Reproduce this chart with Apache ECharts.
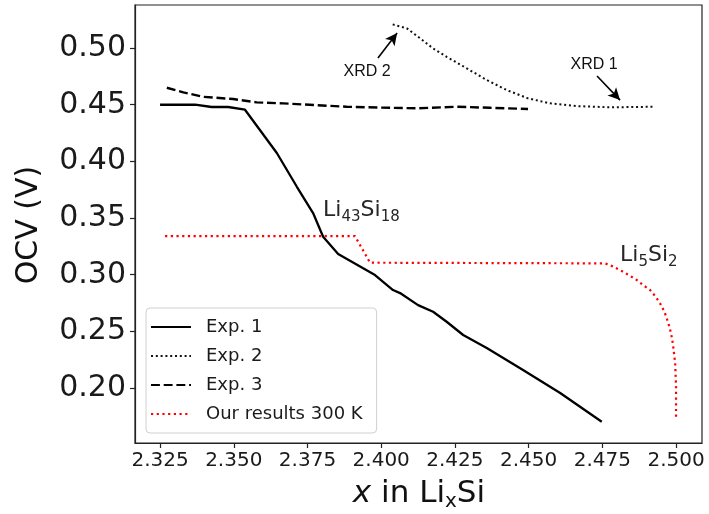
<!DOCTYPE html>
<html><head><meta charset="utf-8">
<script src="https://cdn.jsdelivr.net/npm/echarts@6/dist/echarts.min.js"></script>
<style>html,body{margin:0;padding:0;background:#fff}#c{width:709px;height:514px}</style>
</head><body><div id="c"></div>
<script>
// ---- data ----
const exp1X = [2.325, 2.3369, 2.3425, 2.3481, 2.3538, 2.3646, 2.3714, 2.3769, 2.3803, 2.3854, 2.3979, 2.4040, 2.4064, 2.4125, 2.4176, 2.4222, 2.4278, 2.4358, 2.4481, 2.4607, 2.4748];
const exp1Y = [0.450, 0.450, 0.448, 0.448, 0.4456, 0.4074, 0.3776, 0.3544, 0.3335, 0.3182, 0.2997, 0.2865, 0.2838, 0.2732, 0.2673, 0.2585, 0.2468, 0.2353, 0.2159, 0.1956, 0.1703];

const exp2X = [2.4039, 2.4087, 2.4132, 2.4176, 2.4222, 2.4290, 2.4358, 2.4426, 2.4498, 2.4573, 2.4663, 2.4776, 2.4922];
const exp2Y = [0.5209, 0.5174, 0.5086, 0.4997, 0.4923, 0.4821, 0.4718, 0.4629, 0.4556, 0.4512, 0.4488, 0.4477, 0.4482];

const exp3X = [2.3273, 2.3329, 2.3396, 2.3498, 2.3578, 2.3667, 2.3883, 2.4030, 2.4121, 2.4256, 2.4369, 2.4498];
const exp3Y = [0.465, 0.4609, 0.4570, 0.4550, 0.4521, 0.4512, 0.4482, 0.4473, 0.4468, 0.4482, 0.4473, 0.4462];

const oursX = [2.3267, 2.3911, 2.3962, 2.4759, 2.4783, 2.4810, 2.4837, 2.4867, 2.4888, 2.4912, 2.4929, 2.4946, 2.4961, 2.4974, 2.4983, 2.4989, 2.4993, 2.4997, 2.5000, 2.5000];
const oursY = [0.3341, 0.3341, 0.3106, 0.3100, 0.3076, 0.3041, 0.3001, 0.2953, 0.2909, 0.2865, 0.2812, 0.2747, 0.2671, 0.2571, 0.2485, 0.2394, 0.2309, 0.2218, 0.2011, 0.1733];

const seriesNames = ['Exp. 1', 'Exp. 2', 'Exp. 3', 'Our results 300 K'];
const xTicks = [2.325, 2.350, 2.375, 2.400, 2.425, 2.450, 2.475, 2.500];
const yTicks = [0.20, 0.25, 0.30, 0.35, 0.40, 0.45, 0.50];

// annotations (data coordinates)
const xrd2Arrow = [[2.3989, 0.4912], [2.4054, 0.5132]];
const xrd1Arrow = [[2.4732, 0.4753], [2.4810, 0.4541]];
const xrd2Text = [2.3952, 0.4788];
const xrd1Text = [2.4722, 0.4850];
const li43Pos = [2.3803, 0.3571];
const li5Pos = [2.4810, 0.3173];

const zip = (xs, ys) => xs.map((x, i) => [x, ys[i]]);

const chart = echarts.init(document.getElementById('c'), null, {renderer: 'canvas'});
const FONT = 'DejaVu Sans';

const option = {
  animation: false,
  backgroundColor: '#fff',
  grid: {left: 135, right: 7, top: 5, bottom: 71, show: true, borderColor: '#222', borderWidth: 1.2, backgroundColor: 'transparent'},
  xAxis: {
    type: 'value', min: 2.3165, max: 2.5088,
    splitLine: {show: false},
    axisLine: {show: true, onZero: false, lineStyle: {color: '#222', width: 1.2}},
    axisTick: {show: true, length: 5, customValues: xTicks, lineStyle: {color: '#222', width: 1.2}},
    axisLabel: {customValues: xTicks, formatter: v => v.toFixed(3), fontFamily: FONT, fontSize: 20, color: '#1a1a1a', margin: 8}
  },
  yAxis: {
    type: 'value', min: 0.1515, max: 0.538,
    splitLine: {show: false},
    axisLine: {show: true, onZero: false, lineStyle: {color: '#222', width: 1.2}},
    axisTick: {show: true, length: 5, customValues: yTicks, lineStyle: {color: '#222', width: 1.2}},
    axisLabel: {customValues: yTicks, formatter: v => v.toFixed(2), fontFamily: FONT, fontSize: 30, color: '#1a1a1a', margin: 9}
  },
  legend: {
    orient: 'vertical', left: 146, top: 308,
    padding: [9, 14, 9, 4], itemGap: 9, itemWidth: 40, itemHeight: 14,
    borderColor: '#d0d0d0', borderWidth: 1, borderRadius: 4, backgroundColor: '#fff',
    itemStyle: {opacity: 0},
    textStyle: {fontFamily: FONT, fontSize: 18, color: '#1a1a1a', lineHeight: 20, padding: [0, 0, 0, 10]},
    data: seriesNames
  },
  series: [
    {name: seriesNames[0], type: 'line', data: zip(exp1X, exp1Y), symbol: 'none', color: '#000',
     lineStyle: {color: '#000', width: 2.3, type: 'solid'}},
    {name: seriesNames[1], type: 'line', data: zip(exp2X, exp2Y), symbol: 'none', color: '#111',
     lineStyle: {color: '#111', width: 2, type: [2, 2.8]},
     markLine: {silent: true, animation: false, symbol: ['none', 'arrow'], symbolSize: [9, 12], label: {show: false},
       lineStyle: {color: '#000', width: 1.6, type: 'solid'},
       data: [
         [{coord: xrd2Arrow[0]}, {coord: xrd2Arrow[1]}],
         [{coord: xrd1Arrow[0]}, {coord: xrd1Arrow[1]}]
       ]}},
    {name: seriesNames[2], type: 'line', data: zip(exp3X, exp3Y), symbol: 'none', color: '#000',
     lineStyle: {color: '#000', width: 2.4, type: [8.9, 3.8]}},
    {name: seriesNames[3], type: 'line', data: zip(oursX, oursY), symbol: 'none', color: '#ff0000',
     lineStyle: {color: '#ff0000', width: 2.2, type: [2.2, 3.5]}}
  ]
};
chart.setOption(option);

const px = p => chart.convertToPixel({gridIndex: 0}, p);
const p2 = px(xrd2Text), p1 = px(xrd1Text), pL43 = px(li43Pos), pL5 = px(li5Pos);
const subRich = {
  a: {fontFamily: FONT, fontSize: 22, fill: '#262626', lineHeight: 30, verticalAlign: 'middle'},
  b: {fontFamily: FONT, fontSize: 15, fill: '#262626', lineHeight: 30, padding: [14, 0, 0, 0]}
};
chart.setOption({
  graphic: [
    {type: 'text', x: p2[0], y: p2[1], style: {text: 'XRD 2', font: '16px "Liberation Sans"', fill: '#111', align: 'center', verticalAlign: 'middle'}},
    {type: 'text', x: p1[0], y: p1[1], style: {text: 'XRD 1', font: '16px "Liberation Sans"', fill: '#111', align: 'center', verticalAlign: 'middle'}},
    {type: 'text', x: pL43[0], y: pL43[1], style: {text: '{a|Li}{b|43}{a|Si}{b|18}', rich: subRich, align: 'left', verticalAlign: 'middle'}},
    {type: 'text', x: pL5[0], y: pL5[1], style: {text: '{a|Li}{b|5}{a|Si}{b|2}', rich: subRich, align: 'left', verticalAlign: 'middle'}},
    {type: 'text', x: 29, y: 225, rotation: Math.PI / 2,
     style: {text: 'OCV (V)', font: '30px "DejaVu Sans"', fill: '#111', align: 'center', verticalAlign: 'middle'}},
    {type: 'text', x: 419, y: 494,
     style: {text: '{i|x}{a| in Li}{s|x}{a|Si}', align: 'center', verticalAlign: 'middle',
       rich: {
         i: {fontFamily: FONT, fontStyle: 'italic', fontSize: 31, fill: '#111', lineHeight: 36},
         a: {fontFamily: FONT, fontSize: 31, fill: '#111', lineHeight: 36},
         s: {fontFamily: FONT, fontSize: 20, fill: '#111', lineHeight: 36, padding: [16, 0, 0, 0]}
       }}}
  ]
});
</script></body></html>
